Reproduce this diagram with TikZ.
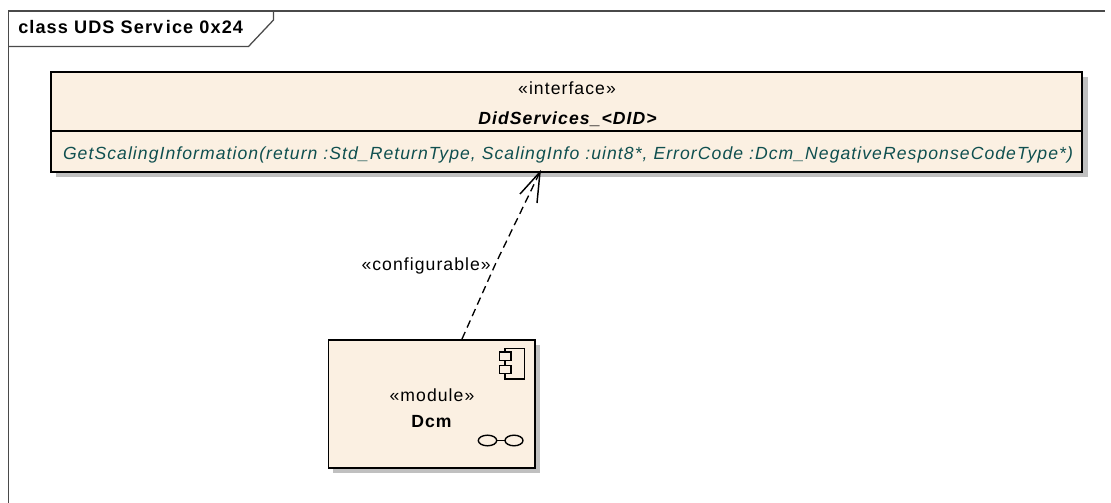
\documentclass[tikz,border=0pt]{standalone}
\usepackage{fontspec}
\setmainfont[LetterSpace=6]{Liberation Sans}
\usetikzlibrary{calc}
\definecolor{boxfill}{HTML}{FBF0E2}
\definecolor{shadowc}{HTML}{C0C0C0}
\definecolor{opcolor}{HTML}{0F4F4F}
\definecolor{framec}{HTML}{4A4A4A}
\newcommand{\fsz}[1]{\fontsize{#1}{16}\selectfont}
\tikzset{
  x=0.75pt,y=-0.75pt,
  boxshape/.style={draw=black,line width=1.2pt,fill=boxfill,inner sep=0pt,anchor=north west},
  lbl/.style={inner sep=0pt,font=\fsz{13.2},text=black},
  iconline/.style={draw=black,line width=1.05pt},
  depline/.style={draw=black,line width=1pt,dash pattern=on 5.8pt off 3.6pt},
  barb/.style={draw=black,line width=1.1pt}
}
\begin{document}
\begin{tikzpicture}
\useasboundingbox (0,0) rectangle (1111,503);
\fill[white] (0,0) rectangle (1111,503);
% frame
\draw[framec,line width=0.95pt] (8.5,503) -- (8.5,11) -- (1105,11);
\draw[framec,line width=0.95pt] (8.5,46.5) -- (248.5,46.5) -- (273.5,20) -- (273.5,11);
\node[lbl,anchor=base west,font=\fsz{13.6}\bfseries] (title) at (18,33.5) {class UDS Serv\kern2pt ice 0x24};
% interface
\fill[shadowc] (56,77) rectangle (1087.5,177);
\node[boxshape,minimum width=773.6pt,minimum height=75pt] (iface) at (50,71) {};
\draw[black,line width=1.05pt] (50,131) coordinate (sepl) -- (1081.5,131) coordinate (sepr);
\node[lbl,anchor=base] (ster) at (567,95) {«interface»};
\node[lbl,anchor=base,font=\fsz{13.2}\bfseries\itshape] (name) at (567.5,124) {DidServices\_<DID>};
\node[lbl,anchor=base,text=opcolor,font=\fsz{13.2}\itshape] (op) at (568,159.5) {GetScalingInformation(return :Std\_ReturnType, ScalingInfo :uint8*, ErrorCode :Dcm\_NegativeResponseCodeType*)};
% module
\fill[shadowc] (333,345) rectangle (540,473);
\node[boxshape,minimum width=154.9pt,minimum height=96pt] (dcm) at (327.5,339) {};
\node[lbl,anchor=base] (mster) at (432,401.5) {«module»};
\node[lbl,anchor=base,font=\fsz{13.2}\bfseries] (mname) at (431.5,427) {Dcm};
% component icon
\draw[iconline] (505,348.5) rectangle (524.5,379);
\draw[iconline,fill=boxfill] (499.5,352) rectangle (511,360.5);
\draw[iconline,fill=boxfill] (499.5,365.5) rectangle (511,373.5);
% link icon
\draw[iconline] (487.5,440.5) ellipse (9.2 and 5.3);
\draw[iconline] (514,440.5) ellipse (9 and 5.3);
\draw[iconline] (496.7,440.5) -- (505,440.5);
% dependency
\coordinate (src) at (462,339);
\coordinate (bend) at (495,265);
\coordinate (tip) at (540,172);
\coordinate (b1) at (520,194);
\coordinate (b2) at (537,203);
\draw[depline] (src) -- (bend) -- (tip);
\draw[barb] (b1) -- (tip) -- (b2);
\node[lbl,anchor=base east] (dep) at (491,270.5) {«configurable»};
\end{tikzpicture}
\end{document}
